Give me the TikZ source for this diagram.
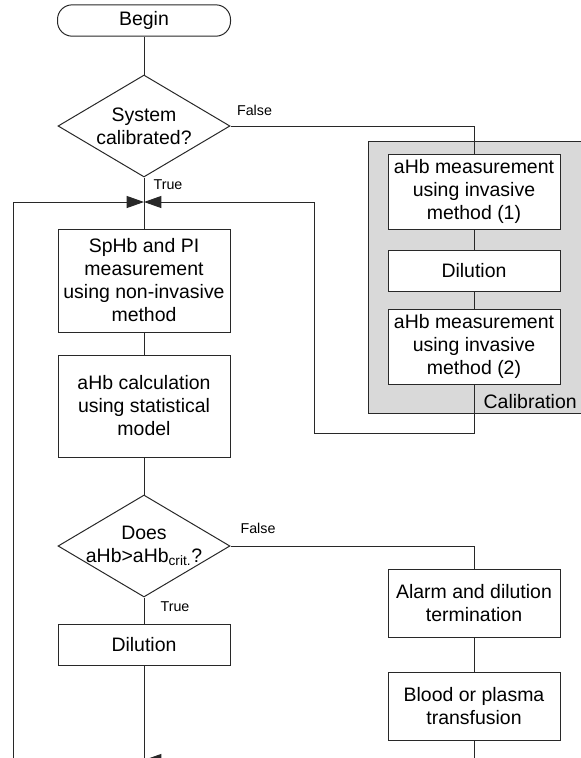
\documentclass[tikz,border=0pt]{standalone}
\usepackage{fontspec}
\setmainfont{Liberation Sans}
\usetikzlibrary{shapes.geometric,arrows.meta}
\definecolor{calibgray}{RGB}{217,217,217}
\definecolor{linegray}{RGB}{40,40,40}

\begin{document}
\begin{tikzpicture}[x=0.75pt,y=-0.75pt,
  every node/.style={font=\fontsize{14.6}{17.25}\selectfont},
  line/.style={draw=linegray,line width=0.75pt},
  terminal/.style={line,rectangle,rounded corners=11pt,minimum width=129.75pt,minimum height=23.5pt,inner sep=0pt},
  process/.style={line,rectangle,fill=white,align=center,minimum width=129pt,inner sep=0pt},
  decision/.style={line,diamond,align=center,minimum width=129pt,minimum height=76.5pt,inner sep=0pt,shape aspect=1.7},
  flowlabel/.style={font=\fontsize{10.7}{13}\selectfont,inner sep=0pt},
  merge/.style={-{Triangle[length=13pt,width=9pt]}}]
  \useasboundingbox (0,0) rectangle (581,758);
  \clip (0,0) rectangle (581,758);

  \draw[line,fill=calibgray] (368,141) rectangle (600,413);
  \node[anchor=base east,inner sep=0pt] (calibration) at (577,408) {Calibration};

  \node[terminal] (begin) at (144,20.5) {Begin};
  \node[decision] (calibrated) at (144,126) {System\\calibrated?};
  \coordinate (merge) at (144,202);
  \node[process,minimum height=77.25pt] (spHb) at (144,280.5) {SpHb and PI\\measurement\\using non-invasive\\method};
  \node[process,minimum height=76.5pt] (aHbcalc) at (144,406) {aHb calculation\\using statistical\\model};
  \node[decision,inner xsep=-9pt] (critical) at (144,546) {Does\\aHb>aHb\textsubscript{crit.}?};
  \node[process,minimum height=30.75pt] (dilution) at (144,644.5) {Dilution};
  \coordinate (bottommerge) at (144,760);

  \node[process,minimum height=56.25pt] (invasive1) at (474,191.5) {aHb measurement\\using invasive\\method (1)};
  \node[process,minimum height=30.75pt] (calibdilution) at (474,270.5) {Dilution};
  \node[process,minimum height=56.25pt] (invasive2) at (474,346.5) {aHb measurement\\using invasive\\method (2)};
  \node[process,minimum height=51pt] (alarm) at (474,603) {Alarm and dilution\\termination};
  \node[process,minimum height=51pt] (transfusion) at (474,706) {Blood or plasma\\transfusion};

  \node[flowlabel] (false1) at (254.5,110.5) {False};
  \node[flowlabel] (true1) at (168,184.5) {True};
  \node[flowlabel] (false2) at (258,528) {False};
  \node[flowlabel] (true2) at (175,606.5) {True};

  \draw[line] (begin) -- (calibrated);
  \draw[line] (calibrated.east) -| (invasive1.north);
  \draw[line] (calibrated.south) -- (spHb.north);
  \draw[line] (invasive1) -- (calibdilution);
  \draw[line] (calibdilution) -- (invasive2);
  \draw[line,merge] (invasive2.south) |- (314,433) |- (merge);
  \draw[line,merge] (13,770) |- (merge);

  \draw[line] (spHb) -- (aHbcalc);
  \draw[line] (aHbcalc) -- (critical);
  \draw[line] (critical.east) -| (alarm.north);
  \draw[line] (critical.south) -- (dilution.north);
  \draw[line] (dilution.south) -- (144,770);
  \draw[line] (alarm) -- (transfusion);
  \draw[line,merge] (transfusion.south) |- (bottommerge);
\end{tikzpicture}
\end{document}
